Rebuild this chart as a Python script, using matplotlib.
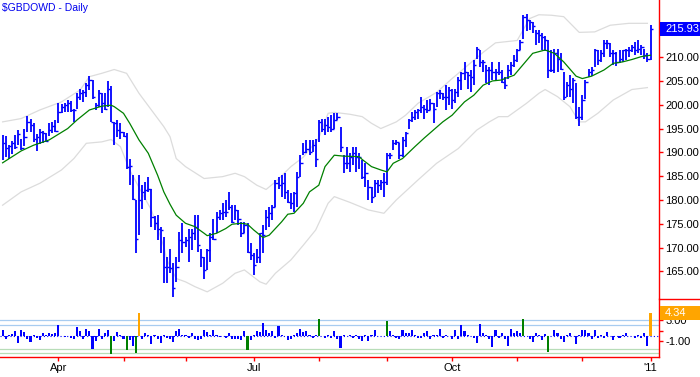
import numpy as np
import pandas as pd
import matplotlib
matplotlib.use("Agg")
import matplotlib.pyplot as plt
from matplotlib.patches import Rectangle
from matplotlib.lines import Line2D
from matplotlib.transforms import blended_transform_factory

plt.rcParams['font.family'] = ['Liberation Sans', 'DejaVu Sans']

# ---------------- data ----------------
holidays = ['2010-04-02', '2010-05-31', '2010-07-05', '2010-09-06', '2010-11-25', '2010-12-24']
dates = [d for d in pd.bdate_range('2010-03-08', '2011-01-03') if d.strftime('%Y-%m-%d') not in holidays]

high = [193.6, 193.4, 191.5, 192.4, 193.6, 194.7, 192.7, 194.8, 197.6, 197.1,
        196.1, 193.8, 195.0, 194.5, 194.1, 196.1, 196.4, 196.8, 200.3, 200.1,
        200.4, 201.1, 200.8, 199.2, 202.4, 203.4, 203.1, 204.6, 206.0, 205.2,
        200.3, 203.2, 202.4, 202.4, 205.0, 203.9, 196.4, 196.8, 196.1, 194.3,
        194.0, 188.5, 185.2, 180.0, 185.2, 183.1, 183.8, 184.9, 182.4, 176.6,
        176.8, 174.4, 172.3, 168.1, 169.8, 166.7, 168.1, 173.3, 175.1, 172.3,
        174.0, 174.0, 176.8, 176.8, 169.8, 168.1, 169.8, 173.0, 176.1, 177.5,
        177.9, 179.3, 180.0, 181.7, 178.9, 178.9, 177.9, 175.4, 175.4, 175.1,
        170.9, 168.8, 169.8, 173.0, 174.7, 177.9, 178.6, 178.9, 184.2, 184.9,
        185.2, 185.6, 182.1, 181.4, 181.7, 185.9, 189.4, 191.9, 192.6, 192.6,
        192.6, 192.9, 196.8, 197.1, 197.1, 197.5, 197.8, 198.2, 198.2, 195.4,
        189.4, 191.2, 189.8, 191.2, 191.2, 189.8, 188.4, 187.7, 184.2, 182.8,
        184.2, 184.2, 184.2, 185.6, 189.8, 189.8, 192.6, 192.6, 191.9, 193.3,
        194.3, 197.1, 198.5, 198.9, 199.2, 201.7, 199.9, 201.0, 201.3, 200.3,
        202.7, 203.1, 202.4, 204.1, 203.8, 203.4, 203.4, 205.9, 206.9, 209.0,
        206.9, 207.3, 209.4, 212.2, 211.5, 209.4, 208.3, 208.0, 209.0, 207.6,
        209.0, 207.3, 205.9, 208.3, 209.0, 210.4, 211.8, 213.6, 218.8, 219.0,
        217.8, 217.4, 215.8, 215.7, 215.0, 214.4, 213.7, 211.5, 211.8, 211.8,
        210.8, 206.9, 204.8, 206.2, 205.7, 204.5, 199.6, 202.0, 205.2, 207.6,
        208.0, 211.8, 211.5, 211.5, 213.6, 213.7, 212.9, 211.5, 211.1, 211.5,
        211.6, 211.8, 212.2, 212.5, 213.2, 213.6, 212.5, 211.8, 210.8, 216.7]

low = [188.4, 189.1, 188.6, 189.6, 190.6, 191.5, 190.5, 191.3, 194.3, 194.3,
       192.2, 190.3, 191.7, 192.0, 192.2, 193.4, 194.1, 194.3, 196.1, 198.2,
       198.4, 198.5, 198.5, 196.3, 199.2, 201.0, 200.6, 201.7, 203.1, 201.3,
       198.9, 199.6, 198.2, 198.9, 199.6, 196.4, 191.5, 193.3, 192.9, 193.3,
       186.6, 183.1, 180.0, 168.9, 172.6, 178.2, 180.0, 181.7, 174.4, 173.7,
       171.6, 168.8, 162.6, 162.6, 164.6, 159.7, 162.8, 167.0, 168.8, 170.2,
       167.0, 169.5, 171.6, 169.1, 166.0, 163.5, 165.3, 167.0, 171.6, 173.0,
       175.8, 175.8, 176.5, 177.9, 175.1, 175.8, 174.7, 172.3, 173.0, 168.8,
       167.4, 164.2, 166.7, 166.7, 168.8, 173.7, 174.4, 175.8, 178.6, 182.4,
       180.7, 180.3, 179.3, 178.2, 177.5, 178.6, 184.9, 189.4, 189.8, 189.4,
       190.1, 187.0, 192.2, 194.3, 193.6, 194.3, 194.3, 195.0, 196.8, 190.1,
       185.6, 186.6, 185.9, 187.3, 185.9, 186.6, 184.5, 182.8, 180.0, 179.3,
       180.7, 181.4, 182.1, 180.7, 183.1, 188.7, 190.5, 191.5, 188.7, 189.1,
       191.2, 195.0, 196.4, 196.8, 197.1, 198.2, 197.1, 198.2, 198.9, 196.1,
       199.6, 201.3, 201.0, 198.9, 199.9, 199.2, 200.3, 201.7, 203.1, 205.2,
       203.4, 202.7, 204.1, 209.7, 208.0, 206.9, 204.5, 204.1, 205.2, 205.2,
       206.2, 204.5, 203.4, 205.5, 206.2, 208.0, 209.0, 211.5, 213.9, 215.5,
       215.7, 215.0, 212.5, 213.0, 211.5, 211.3, 205.7, 206.9, 206.6, 206.9,
       207.3, 201.1, 201.7, 201.7, 200.3, 197.1, 195.5, 196.8, 201.3, 205.9,
       206.0, 208.0, 208.3, 209.0, 210.1, 211.8, 210.1, 208.3, 208.1, 208.7,
       209.0, 209.4, 210.1, 211.1, 210.4, 210.8, 210.4, 209.7, 209.0, 209.4]

close = [192.0, 191.0, 191.3, 191.9, 191.2, 193.8, 191.0, 193.3, 196.4, 195.7,
         192.9, 193.3, 194.3, 194.0, 192.4, 194.7, 195.5, 194.5, 198.5, 199.6,
         199.9, 200.3, 198.9, 198.9, 201.7, 202.4, 202.7, 204.1, 205.2, 201.7,
         199.9, 202.4, 200.3, 199.2, 203.4, 196.4, 196.1, 194.7, 194.3, 193.4,
         187.0, 187.1, 180.3, 171.7, 180.0, 181.7, 182.1, 182.4, 176.5, 175.1,
         174.0, 173.7, 166.0, 166.0, 165.8, 161.6, 166.0, 171.6, 171.2, 171.6,
         172.3, 173.0, 174.4, 170.5, 168.1, 165.3, 169.5, 172.3, 171.9, 176.5,
         177.2, 177.5, 177.5, 178.6, 175.4, 177.9, 176.1, 173.0, 174.7, 169.1,
         168.4, 166.3, 168.1, 173.0, 172.6, 176.5, 177.2, 178.6, 183.5, 183.1,
         183.5, 181.7, 179.6, 179.3, 181.4, 184.9, 187.7, 190.1, 190.8, 190.1,
         191.5, 188.7, 196.4, 195.0, 195.7, 195.4, 195.0, 196.8, 197.5, 191.2,
         187.7, 187.7, 189.1, 189.8, 189.1, 189.1, 184.9, 185.6, 182.8, 180.7,
         183.5, 183.1, 183.8, 183.8, 189.4, 189.4, 191.9, 192.2, 189.4, 192.6,
         194.0, 196.8, 197.5, 198.5, 198.9, 199.6, 199.2, 198.9, 200.3, 199.2,
         202.4, 202.4, 201.7, 201.7, 203.1, 201.0, 202.7, 205.2, 206.6, 206.9,
         206.2, 205.9, 208.3, 211.8, 209.0, 209.0, 207.3, 207.3, 206.9, 206.9,
         206.9, 204.8, 204.1, 207.3, 208.3, 209.4, 211.5, 213.2, 218.5, 217.8,
         217.4, 216.5, 215.0, 214.6, 214.3, 213.6, 207.3, 207.3, 210.8, 209.7,
         207.6, 201.7, 204.1, 203.4, 205.2, 197.5, 197.5, 201.0, 204.8, 206.9,
         207.3, 211.5, 209.4, 210.8, 212.9, 212.9, 210.8, 210.8, 209.0, 209.7,
         211.5, 211.5, 211.5, 212.2, 211.5, 211.8, 212.2, 210.4, 209.7, 215.93]

# 20-day moving average
sma_idx = [0, 6, 10, 15, 21, 24, 28, 32, 35, 36, 39, 41, 44, 47, 50, 52, 54, 56, 59, 62,
           65, 66, 69, 72, 74, 77, 79, 81, 84, 86, 88, 90, 92, 94, 97, 99, 102, 104, 107, 110,
           115, 116, 119, 122, 124, 126, 129, 133, 136, 139, 142, 145, 149, 152, 155, 158, 161, 162, 165, 168,
           171, 175, 178, 181, 185, 187, 190, 194, 197, 200, 203, 206, 209]
sma_val = [187.8, 190.3, 191.5, 192.6, 195.0, 196.8, 198.9, 199.7, 199.9, 199.6, 198.2, 196.1, 192.6, 189.8, 185.2, 181.7, 179.1, 176.8, 175.1, 174.4,
           173.0, 172.5, 173.0, 174.0, 174.9, 175.1, 174.9, 173.7, 172.1, 172.6, 174.0, 175.4, 177.0, 177.2, 179.3, 181.7, 183.1, 187.0, 189.4, 189.2,
           189.1, 188.5, 187.0, 186.3, 185.9, 187.7, 188.7, 191.2, 193.0, 194.7, 196.4, 197.8, 200.6, 202.0, 204.1, 205.0, 205.2, 205.5, 206.2, 208.5,
           210.8, 211.5, 210.8, 209.0, 206.0, 205.5, 206.0, 207.3, 208.7, 209.0, 209.5, 210.1, 210.4]

# Bollinger bands
bbu_idx = [0, 6, 12, 19, 25, 28, 32, 36, 40, 44, 48, 52, 54, 56, 59, 65, 71, 75, 78, 82,
           85, 88, 93, 97, 102, 105, 107, 112, 116, 119, 122, 127, 130, 134, 140, 145, 151, 155, 159, 166,
           170, 173, 177, 181, 186, 191, 196, 202, 208]
bbu_val = [196.4, 197.1, 198.9, 200.6, 203.1, 205.9, 206.6, 207.4, 206.6, 202.4, 198.9, 195.4, 193.3, 188.7, 187.0, 184.5, 184.9, 185.6, 184.9, 183.1,
           182.2, 183.8, 187.0, 189.0, 193.0, 198.2, 198.4, 198.0, 197.5, 196.1, 195.0, 196.4, 197.8, 200.3, 202.6, 205.5, 208.8, 211.0, 213.0, 213.5,
           218.1, 218.9, 218.8, 218.5, 215.2, 215.3, 216.7, 217.1, 217.1]
bbl_idx = [0, 6, 12, 19, 23, 27, 32, 35, 38, 41, 45, 48, 52, 53, 56, 59, 62, 66, 71, 75,
           78, 83, 85, 88, 93, 97, 101, 105, 107, 112, 118, 123, 127, 134, 140, 147, 153, 157, 160, 163,
           169, 173, 175, 179, 183, 186, 188, 192, 197, 203, 208]
bbl_val = [178.9, 181.7, 183.5, 186.3, 188.7, 191.9, 192.2, 192.7, 191.2, 186.3, 181.4, 177.9, 170.2, 167.4, 163.5, 162.8, 161.8, 160.7, 162.5, 164.6,
           165.3, 162.8, 162.3, 164.6, 167.4, 170.5, 173.7, 179.3, 180.7, 179.5, 177.9, 177.2, 180.0, 184.2, 187.7, 190.8, 194.7, 196.4, 197.5, 197.5,
           200.3, 202.4, 203.2, 201.7, 199.6, 196.4, 196.4, 198.2, 201.0, 203.2, 203.6]

# lower indicator panel
osc = [1.25, -0.6, 0.3, 0.4, 0.9, -1.3, 1.25, 0.75, -0.6, -1.2,
       0.3, -0.35, -0.8, 0.6, 0.3, 0.6, 0.45, 0.6, 2.2, 0.1,
       -0.1, 0.1, -0.3, -0.6, 1.8, 1.0, -0.6, 1.4, 1.0, -2.5,
       -1.0, 1.4, -0.6, 0.5, 1.2, -3.5, -1.0, 0.75, 0.3, -0.6,
       -2.75, -0.8, -1.8, -3.2, 4.5, -0.6, 0.6, 0.2, -1.6, 0.3,
       -0.5, -1.3, 0.3, -0.35, -0.6, -1.2, 1.0, 1.3, 0.3, 0.3,
       -0.35, 0.6, -0.6, -0.8, -0.6, 1.1, 0.75, 0.3, 1.25, 0.2,
       -0.1, 0.1, -0.35, 0.6, -0.5, -0.6, -0.6, -0.8, 1.0, -2.75,
       -0.8, 0.3, 1.0, 0.75, 2.45, 1.25, 0.6, 0.9, -0.35, 1.9,
       0.3, 0.1, -0.8, -0.6, 0.3, 0.6, 1.4, 0.75, 0.9, 0.3,
       -0.35, 0.3, 3.3, 0.1, -0.35, 0.3, -0.35, 0.9, -0.6, -2.2,
       0.3, 0.1, 0.3, -0.35, 0.3, -0.6, -1.0, 0.3, -1.0, 0.3,
       1.25, 0.1, 0.05, 0.1, 2.8, 0.9, 0.3, -0.35, -0.6, 1.1,
       0.6, 0.6, 1.1, 0.3, -0.35, -0.35, 0.6, 0.9, -0.5, 0.3,
       0.3, 1.4, -0.35, 0.3, 0.1, -0.6, 1.25, -0.6, 2.2, 0.9,
       0.3, 0.1, -0.35, -1.3, 2.4, 0.6, 0.3, -0.6, -2.1, 1.1,
       -0.35, 0.6, -0.6, -1.8, 1.4, 0.6, 0.9, 0.6, 3.3, 0.1,
       -0.6, -1.2, 0.6, 0.3, -0.8, 0.45, -3.1, -0.05, 1.25, 0.6,
       -0.5, -1.2, 0.3, 0.5, 0.1, -1.6, 0.3, 1.25, 1.25, 0.6,
       -0.5, 1.1, -0.35, 0.3, -0.35, 0.75, 0.1, -0.8, 0.1, -0.35,
       0.3, 0.5, 0.1, 0.1, -0.35, 0.3, -0.35, 0.6, -1.8, 4.34]
osc_upper_lines = [3.1, 2.1]
osc_lower_lines = [-2.4, -3.3]

price_ticks = [165, 170, 175, 180, 185, 190, 195, 200, 205, 210, 215]
price_tick_labels = ['165.00', '170.00', '175.00', '180.00', '185.00', '190.00',
                     '195.00', '200.00', '205.00', '210.00', '']
osc_ticks = [3, 1, -1]
osc_tick_labels = ['3.00', '', '-1.00']
major_months = {4: 'Apr', 7: 'Jul', 10: 'Oct', 1: "'11"}

# ---------------- figure ----------------
W, H = 700, 377
fig = plt.figure(figsize=(W / 100, H / 100), dpi=100)
ax_right = 659 / W
y_div = 298.5
y_bot = 357
ax1 = fig.add_axes([0, 1 - y_div / H, ax_right, y_div / H])
ax2 = fig.add_axes([0, 1 - y_bot / H, ax_right, (y_bot - y_div) / H])

n = len(close)
x = np.arange(n)
xl = (-2.6 / 3.1, (659 - 2.6) / 3.1)

BLUE = '#0000FF'
RED = '#FF0000'

# main panel
ax1.plot(bbu_idx, bbu_val, color='#DCDCDC', lw=0.9, zorder=1)
ax1.plot(bbl_idx, bbl_val, color='#DCDCDC', lw=0.9, zorder=1)
ax1.plot(sma_idx, sma_val, color='#008000', lw=0.9, zorder=3)
ax1.vlines(x, low[:n], high[:n], color=BLUE, lw=1.3, zorder=2)
ax1.hlines(close, x, x + 0.75, color=BLUE, lw=1.0, zorder=2)

ax1.set_xlim(*xl)
ax1.set_ylim(159.3, 222.0)
for s in ['left', 'top', 'bottom']:
    ax1.spines[s].set_visible(False)
ax1.spines['right'].set_color(RED)
ax1.spines['right'].set_linewidth(1.0)
ax1.set_xticks([])
ax1.yaxis.tick_right()
ax1.set_yticks(price_ticks)
ax1.set_yticklabels(price_tick_labels)
ax1.tick_params(axis='y', colors=RED, labelcolor='black', length=3, width=1,
                direction='out', pad=1.5, labelsize=8)

# last value box (main)
tr1 = blended_transform_factory(ax1.transAxes, ax1.transData)
last = close[-1]
ax1.add_patch(Rectangle((1.0015, last - 1.45), 0.07, 2.9, transform=tr1,
                        facecolor=BLUE, edgecolor='none', clip_on=False, zorder=6))
ax1.text(1 + 6 / 659, last, '%.2f' % last, transform=tr1, color='white',
         fontsize=8, va='center', ha='left', zorder=7, clip_on=False)

# lower panel
cols = []
for v in osc:
    if v >= 4:
        cols.append('#FFA500')
    elif abs(v) >= 2.65:
        cols.append('#008000')
    else:
        cols.append(BLUE)
for v in osc_upper_lines:
    ax2.axhline(v, color='#A8CCF0', lw=0.9, zorder=1)
for v in osc_lower_lines:
    ax2.axhline(v, color='#B8DDB8', lw=0.9, zorder=1)
ax2.axhline(0, color=BLUE, lw=0.8, ls=(0, (1, 2)), zorder=2)
ax2.bar(np.arange(len(osc)), osc, width=0.65, color=cols, zorder=3)
ax2.set_xlim(*xl)
ax2.set_ylim(-4.0, 7.2)
for s in ['left', 'top']:
    ax2.spines[s].set_visible(False)
for s in ['right', 'bottom']:
    ax2.spines[s].set_color(RED)
    ax2.spines[s].set_linewidth(1.0)
ax2.yaxis.tick_right()
ax2.set_yticks(osc_ticks)
ax2.set_yticklabels(osc_tick_labels)
ax2.tick_params(axis='y', colors=RED, labelcolor='black', length=3, width=1,
                direction='out', pad=1.5, labelsize=8)

# month ticks
mstarts, mlabels = [], []
for i in range(1, len(dates)):
    if dates[i].month != dates[i - 1].month:
        mstarts.append(i)
        mlabels.append(major_months.get(dates[i].month, ''))
ax2.set_xticks(mstarts)
ax2.set_xticklabels(mlabels)
ax2.tick_params(axis='x', colors=RED, labelcolor='black', length=3, width=1,
                direction='out', pad=1, labelsize=8)

tr2 = blended_transform_factory(ax2.transAxes, ax2.transData)
lv = osc[-1]
ax2.add_patch(Rectangle((1.0015, lv - 1.35), 0.07, 2.7, transform=tr2,
                        facecolor='#FFA500', edgecolor='none', clip_on=False, zorder=6))
ax2.text(1 + 6 / 659, lv, '%.2f' % lv, transform=tr2, color='white',
         fontsize=8, va='center', ha='left', zorder=7, clip_on=False)

# divider in the label margin
fig.add_artist(Line2D([ax_right, 1], [1 - y_div / H] * 2, color=RED, lw=1.0))

fig.text(2 / W, 1 - 8 / H, r'\$GBDOWD - Daily', color='#0000EE', fontsize=7.5,
         ha='left', va='center')

fig.savefig('out.png', dpi=100)
